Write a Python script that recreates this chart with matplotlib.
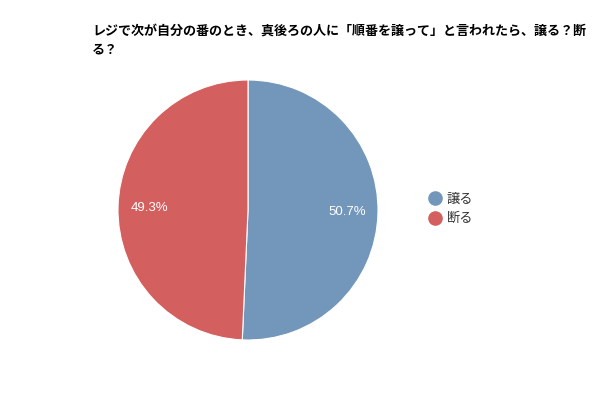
import matplotlib
matplotlib.use("Agg")
import matplotlib.pyplot as plt
from matplotlib.lines import Line2D

plt.rcParams['font.family'] = ['Noto Sans CJK JP', 'DejaVu Sans']

title = "レジで次が自分の番のとき、真後ろの人に「順番を譲って」と言われたら、譲る？断\nる？"
categories = ["譲る", "断る"]
values = [50.7, 49.3]
colors = ["#7396bb", "#d35f5e"]

fig = plt.figure(figsize=(6, 4), dpi=100)
ax = fig.add_axes([118/600, 1-340/400, 260/600, 260/400])
wedges, texts, autotexts = ax.pie(
    values, colors=colors, startangle=90, counterclock=False,
    autopct=lambda p: f"{p:.1f}%", pctdistance=0.76,
    wedgeprops=dict(edgecolor="white", linewidth=0.8),
    textprops=dict(color="white", fontsize=9.5, family=['Liberation Sans']))
ax.set_xlim(-1, 1)
ax.set_ylim(-1, 1)
ax.set_aspect('equal')

fig.text(92/600, 1-40/400, title, fontsize=9.4, fontweight='bold',
         va='center', ha='left', linespacing=1.45)

handles = [Line2D([0], [0], marker='o', linestyle='none', markersize=9.5,
                  markerfacecolor=c, markeredgecolor=c) for c in colors]
leg = fig.legend(handles, categories, loc='center left',
                 bbox_to_anchor=(415/600, 1-209/400), frameon=False,
                 fontsize=9.5, handletextpad=0.3, labelspacing=0.5,
                 handlelength=1.2, labelcolor='#333333')

fig.savefig("out.png", dpi=100)
